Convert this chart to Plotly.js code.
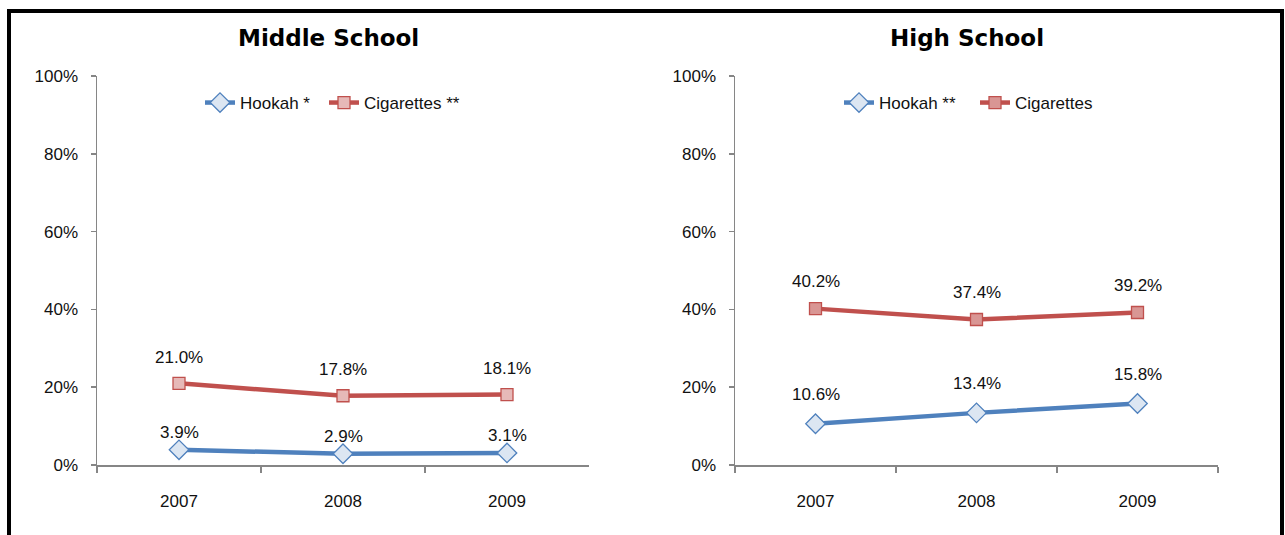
<!DOCTYPE html>
<html><head><meta charset="utf-8">
<script src="https://cdn.plot.ly/plotly-3.0.1.min.js"></script>
<style>
html,body{margin:0;padding:0;background:#fff;width:1285px;height:535px;overflow:hidden;}
#frame{position:absolute;left:7px;top:9px;width:1277px;height:600px;border:4px solid #000;border-bottom:none;box-sizing:border-box;}
#chart{position:absolute;left:0;top:0;width:1285px;height:535px;}
</style></head>
<body>
<div id="frame"></div>
<div id="chart"></div>
<script>
const years = ['2007', '2008', '2009'];
const msHookah = [3.9, 2.9, 3.1];
const msCigarettes = [21.0, 17.8, 18.1];
const hsHookah = [10.6, 13.4, 15.8];
const hsCigarettes = [40.2, 37.4, 39.2];
const msNames = ['Hookah *', 'Cigarettes **'];
const hsNames = ['Hookah **', 'Cigarettes'];
const panelTitles = ['Middle School', 'High School'];
const yTickVals = [0, 20, 40, 60, 80, 100];
const yTickText = ['0%', '20%', '40%', '60%', '80%', '100%'];

const FONT = '"Liberation Sans", Arial, sans-serif';
const TFONT = '"DejaVu Sans", Verdana, sans-serif';
const BLUE = '#4f81bd', RED = '#c0504d';

function hookahTrace(y, name, xa, ya, leg) {
  return {x: years, y: y, name: name, type: 'scatter', mode: 'lines+markers',
    xaxis: xa, yaxis: ya, legend: leg, cliponaxis: false,
    line: {color: BLUE, width: 4.5},
    marker: {symbol: 'diamond', size: 15, color: '#dce6f2', line: {color: BLUE, width: 1.3}}};
}
function cigTrace(y, name, xa, ya, leg, fill) {
  return {x: years, y: y, name: name, type: 'scatter', mode: 'lines+markers',
    xaxis: xa, yaxis: ya, legend: leg, cliponaxis: false,
    line: {color: RED, width: 4.5},
    marker: {symbol: 'square', size: 12, color: fill, line: {color: RED, width: 1.3}}};
}

const data = [
  hookahTrace(msHookah, msNames[0], 'x', 'y', 'legend'),
  cigTrace(msCigarettes, msNames[1], 'x', 'y', 'legend2', '#e6b9b8'),
  hookahTrace(hsHookah, hsNames[0], 'x2', 'y2', 'legend3'),
  cigTrace(hsCigarettes, hsNames[1], 'x2', 'y2', 'legend4', '#d99694')
];

function labels(series, xref, yref, shift) {
  return series.map((v, i) => ({
    x: i, y: v, xref: xref, yref: yref, text: v.toFixed(1) + '%',
    showarrow: false, yanchor: 'middle', xanchor: 'center', yshift: shift,
    font: {family: FONT, size: 17, color: '#111'}
  }));
}

const annotations = [].concat(
  labels(msHookah, 'x', 'y', 17),
  labels(msCigarettes, 'x', 'y', 26),
  labels(hsHookah, 'x2', 'y2', 29),
  labels(hsCigarettes, 'x2', 'y2', 27),
  [
    {text: '<b>' + panelTitles[0] + '</b>', xref: 'paper', yref: 'paper', x: 328/1285, y: 1 - 38/535,
     showarrow: false, xanchor: 'center', yanchor: 'middle', font: {family: TFONT, size: 23, color: '#000'}},
    {text: '<b>' + panelTitles[1] + '</b>', xref: 'paper', yref: 'paper', x: 967/1285, y: 1 - 38/535,
     showarrow: false, xanchor: 'center', yanchor: 'middle', font: {family: TFONT, size: 23, color: '#000'}}
  ]
);

function xax(domain) {
  return {domain: domain, type: 'category', range: [-0.5, 2.5], tickson: 'boundaries',
    showline: true, linecolor: '#868686', linewidth: 1.5, ticks: 'outside', ticklen: 6,
    tickcolor: '#868686', tickwidth: 1.5, showgrid: false, zeroline: false,
    ticklabelstandoff: 20, tickfont: {family: FONT, size: 17, color: '#111'}, fixedrange: true};
}
function yax(anchor) {
  return {domain: [70/535, 1 - 76/535], range: [0, 100], tickmode: 'array',
    tickvals: yTickVals, ticktext: yTickText,
    showline: true, linecolor: '#868686', linewidth: 1.5, ticks: 'outside',
    ticklen: 5, tickcolor: '#868686', tickwidth: 1.5, showgrid: false, zeroline: false,
    anchor: anchor, ticklabelstandoff: 9, tickfont: {family: FONT, size: 17, color: '#111'}, fixedrange: true};
}

const legendBase = {orientation: 'h', yanchor: 'middle', xanchor: 'left', bgcolor: 'rgba(0,0,0,0)',
  font: {family: FONT, size: 17, color: '#111'}, itemwidth: 30, tracegroupgap: 0, itemclick: false,
  y: 1 - 103/535};

const layout = {
  width: 1285, height: 535,
  margin: {l: 0, r: 0, t: 0, b: 0},
  paper_bgcolor: 'rgba(0,0,0,0)', plot_bgcolor: 'rgba(0,0,0,0)',
  showlegend: true,
  xaxis: Object.assign(xax([97/1285, 589/1285]), {anchor: 'y'}),
  yaxis: yax('x'),
  xaxis2: Object.assign(xax([735/1285, 1218/1285]), {anchor: 'y2'}),
  yaxis2: yax('x2'),
  legend: Object.assign({}, legendBase, {x: 200/1285}),
  legend2: Object.assign({}, legendBase, {x: 324/1285}),
  legend3: Object.assign({}, legendBase, {x: 839/1285}),
  legend4: Object.assign({}, legendBase, {x: 975/1285}),
  annotations: annotations
};

Plotly.newPlot('chart', data, layout, {staticPlot: true});
</script>
</body></html>
